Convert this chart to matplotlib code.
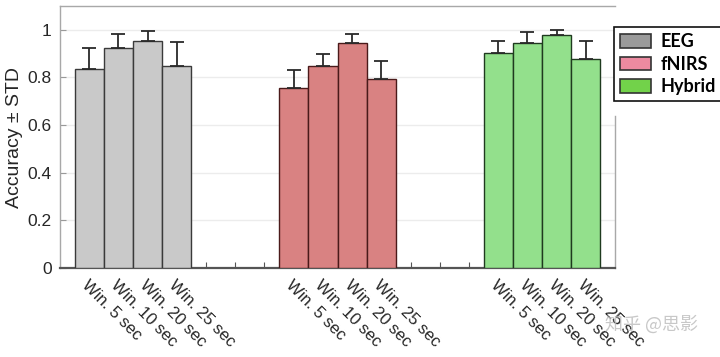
import matplotlib

matplotlib.use("Agg")

import matplotlib.pyplot as plt
import numpy as np

# Values
windows = ["Win. 5 sec", "Win. 10 sec", "Win. 20 sec", "Win. 25 sec"]
groups = ["EEG", "fNIRS", "Hybrid"]
eeg_mean = [0.836, 0.923, 0.955, 0.847]
eeg_std = [0.088, 0.060, 0.041, 0.103]
fnirs_mean = [0.755, 0.847, 0.944, 0.793]
fnirs_std = [0.075, 0.051, 0.038, 0.074]
hybrid_mean = [0.902, 0.945, 0.980, 0.877]
hybrid_std = [0.053, 0.045, 0.021, 0.075]
group_start = [1, 8, 15]

bar_colors = ["#c9c9c9", "#d98282", "#93e08c"]
edge_colors = ["#3a3a3a", "#4a1a1a", "#1f3a1f"]
legend_colors = ["#9a9a9a", "#ec8aa0", "#72d24a"]

plt.rcParams["font.family"] = ["Liberation Sans", "Noto Sans CJK SC", "DejaVu Sans"]

fig = plt.figure(figsize=(7.2, 3.57), dpi=100)
ax = fig.add_axes([60 / 720, 1 - 268 / 357, 555 / 720, 262 / 357])

means = [eeg_mean, fnirs_mean, hybrid_mean]
stds = [eeg_std, fnirs_std, hybrid_std]
tick_pos = []
tick_lab = []
for g, name in enumerate(groups):
    x = np.arange(len(windows)) + group_start[g]
    ax.bar(x, means[g], width=1.0, color=bar_colors[g], edgecolor=edge_colors[g],
           linewidth=1.0, zorder=3)
    ax.errorbar(x, means[g], yerr=[np.zeros(len(windows)), stds[g]], fmt="none",
                ecolor="#2a2a2a", elinewidth=1.3, capsize=5, capthick=1.3, zorder=4)
    tick_pos.extend(x)
    tick_lab.extend(windows)

ax.set_xlim(0, 19)
ax.set_ylim(0, 1.1)
ax.set_yticks([0, 0.2, 0.4, 0.6, 0.8, 1.0])
ax.set_yticklabels(["0", "0.2", "0.4", "0.6", "0.8", "1"])
ax.set_xticks(np.arange(1, 19))
ax.set_xticklabels([tick_lab[tick_pos.index(p)] if p in tick_pos else ""
                    for p in range(1, 19)],
                   rotation=-45, ha="left", va="top", rotation_mode="anchor")
ax.tick_params(axis="x", direction="in", length=4, color="#555555",
               labelsize=12, labelcolor="#262626", pad=7)
ax.tick_params(axis="y", direction="in", length=4, color="#999999",
               labelsize=12.5, labelcolor="#262626", pad=6)

ax.grid(axis="y", color="#ececec", linewidth=1.0, zorder=0)
ax.spines["bottom"].set_color("#555555")
ax.spines["bottom"].set_linewidth(1.6)
for side in ("left", "top", "right"):
    ax.spines[side].set_color("#a8a8a8")
    ax.spines[side].set_linewidth(1.0)
ax.spines["right"].set_bounds(0, 0.64)

ax.set_ylabel("Accuracy ± STD", fontsize=14, color="#262626", labelpad=3)

handles = [plt.Rectangle((0, 0), 1, 1, facecolor=c, edgecolor="#333333", linewidth=1.2)
           for c in legend_colors]
leg = fig.legend(handles, groups, loc="upper left", bbox_to_anchor=(614 / 720, 1 - 27 / 357),
                 frameon=True, fancybox=False, edgecolor="#111111", framealpha=1,
                 prop={"family": "Lato", "weight": "bold", "size": 13},
                 handlelength=1.7, handleheight=0.8, borderpad=0.35, labelspacing=0.3,
                 handletextpad=0.55, borderaxespad=0)
leg.get_frame().set_linewidth(1.2)

fig.text(0.905, 0.09, "知乎 @思影", fontsize=13, color="#bbbbbb", alpha=0.8,
         ha="center", va="center", family=["Noto Sans CJK SC", "DejaVu Sans"])

fig.savefig("out.png", dpi=100)
